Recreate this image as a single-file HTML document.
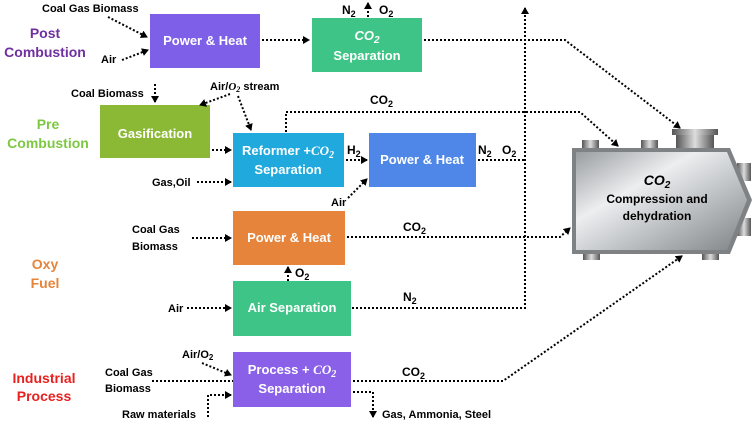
<!DOCTYPE html>
<html><head><meta charset="utf-8"><style>
body{margin:0;background:#fff;}
svg text{font-family:"Liberation Sans",sans-serif;font-weight:bold;}
</style></head><body>
<svg width="755" height="421" viewBox="0 0 755 421" xmlns="http://www.w3.org/2000/svg">
<defs>
<marker id="a" markerWidth="8" markerHeight="8" refX="6" refY="4" orient="auto" markerUnits="userSpaceOnUse"><path d="M0,0 L7,4 L0,8 z" fill="#000"/></marker>
<linearGradient id="m" x1="0" y1="0" x2="1" y2="1"><stop offset="0" stop-color="#9a9da0"/><stop offset="0.35" stop-color="#eceef0"/><stop offset="0.6" stop-color="#c2c5c8"/><stop offset="1" stop-color="#808386"/></linearGradient>
<linearGradient id="p" x1="0" y1="0" x2="1" y2="0"><stop offset="0" stop-color="#555"/><stop offset="0.5" stop-color="#ddd"/><stop offset="1" stop-color="#555"/></linearGradient>
</defs>
<rect x="582" y="140" width="17" height="8" fill="url(#p)"/>
<rect x="641" y="140" width="17" height="8" fill="url(#p)"/>
<rect x="676" y="133" width="38" height="15" fill="url(#p)"/>
<rect x="672" y="129" width="46" height="6" fill="url(#p)"/>
<rect x="737" y="163" width="14" height="18" fill="url(#p)"/>
<rect x="737" y="218" width="14" height="18" fill="url(#p)"/>
<rect x="583" y="252" width="17" height="8" fill="url(#p)"/>
<rect x="702" y="252" width="17" height="8" fill="url(#p)"/>
<path d="M572,148 L730,148 L752,200 L730,254 L572,254 z" fill="#7f8285"/>
<path d="M576,152 L727,152 L747,200 L727,250 L576,250 z" fill="url(#m)"/>
<text x="657" y="185" font-size="14" text-anchor="middle" font-style="italic" font-family="Liberation Serif">CO<tspan font-size="10" dy="3">2</tspan></text>
<text x="657" y="203" font-size="12" text-anchor="middle">Compression and</text>
<text x="657" y="220" font-size="12" text-anchor="middle">dehydration</text>
<g font-size="13" fill="#fff" text-anchor="middle">
<rect x="150" y="14" width="110" height="54" fill="#7e5fe8"/><text x="205" y="45">Power &amp; Heat</text>
<rect x="312" y="18" width="110" height="54" fill="#3ec486"/><text x="367" y="40" font-style="italic" font-family="Liberation Serif">CO<tspan font-size="10" dy="3">2</tspan></text><text x="367" y="60">Separation</text>
<rect x="100" y="105" width="110" height="53" fill="#8cb935"/><text x="155" y="138">Gasification</text>
<rect x="233" y="133" width="111" height="54" fill="#1fa9dc"/><text x="288" y="155">Reformer +<tspan font-style="italic" font-family="Liberation Serif">CO<tspan font-size="10" dy="3">2</tspan></tspan></text><text x="288" y="174">Separation</text>
<rect x="369" y="133" width="107" height="54" fill="#4f87e8"/><text x="422" y="164">Power &amp; Heat</text>
<rect x="233" y="211" width="112" height="54" fill="#e5843a"/><text x="289" y="242">Power &amp; Heat</text>
<rect x="233" y="281" width="118" height="55" fill="#3ec486"/><text x="292" y="312">Air Separation</text>
<rect x="233" y="352" width="118" height="55" fill="#8a60e8"/><text x="292" y="374">Process + <tspan font-style="italic" font-family="Liberation Serif">CO<tspan font-size="10" dy="3">2</tspan></tspan></text><text x="292" y="393">Separation</text>
</g>
<g font-size="14" text-anchor="middle">
<text x="45" y="38" fill="#7030a0">Post</text><text x="45" y="57" fill="#7030a0">Combustion</text>
<text x="48" y="129" fill="#7dc843">Pre</text><text x="48" y="148" fill="#7dc843">Combustion</text>
<text x="45" y="269" fill="#e5843a">Oxy</text><text x="45" y="288" fill="#e5843a">Fuel</text>
<text x="44" y="383" fill="#e8201f">Industrial</text><text x="44" y="401" fill="#e8201f">Process</text>
</g>
<g font-size="11" fill="#000">
<text x="42" y="12">Coal Gas Biomass</text>
<text x="101" y="63">Air</text>
<text x="71" y="97">Coal Biomass</text>
<text x="210" y="90">Air/<tspan font-style="italic" font-family="Liberation Serif">O<tspan font-size="8" dy="2">2</tspan></tspan><tspan dy="-2"> stream</tspan></text>
<text x="152" y="186">Gas,Oil</text>
<text x="132" y="233">Coal Gas</text><text x="132" y="250">Biomass</text>
<text x="168" y="312">Air</text>
<text x="182" y="358">Air/O<tspan font-size="8" dy="2">2</tspan></text>
<text x="105" y="376">Coal Gas</text><text x="105" y="392">Biomass</text>
<text x="122" y="418">Raw materials</text>
<text x="382" y="418">Gas, Ammonia, Steel</text>
<text x="331" y="206">Air</text>
</g>
<g font-size="12" fill="#000">
<text x="342" y="14" font-family="Liberation Serif">N<tspan font-size="9" dy="3">2</tspan></text>
<text x="379" y="14" font-family="Liberation Serif">O<tspan font-size="9" dy="3">2</tspan></text>
<text x="370" y="104" font-family="Liberation Serif">CO<tspan font-size="9" dy="3">2</tspan></text>
<text x="347" y="154" font-family="Liberation Serif">H<tspan font-size="9" dy="3">2</tspan></text>
<text x="478" y="154" font-family="Liberation Serif">N<tspan font-size="9" dy="3">2</tspan></text>
<text x="502" y="154" font-family="Liberation Serif">O<tspan font-size="9" dy="3">2</tspan></text>
<text x="403" y="231" font-family="Liberation Serif">CO<tspan font-size="9" dy="3">2</tspan></text>
<text x="295" y="277" font-family="Liberation Serif">O<tspan font-size="9" dy="3">2</tspan></text>
<text x="403" y="301" font-family="Liberation Serif">N<tspan font-size="9" dy="3">2</tspan></text>
<text x="402" y="376" font-family="Liberation Serif">CO<tspan font-size="9" dy="3">2</tspan></text>
</g>
<g stroke="#000" stroke-width="2" stroke-dasharray="2 2" fill="none">
<path d="M108,17 L147,37" marker-end="url(#a)"/>
<path d="M122,60 L148,50" marker-end="url(#a)"/>
<path d="M262,40 L309,40" marker-end="url(#a)"/>
<path d="M368,17 L368,3" marker-end="url(#a)"/>
<path d="M424,40 L565,40 L680,128" marker-end="url(#a)"/>
<path d="M155,84 L155,102" marker-end="url(#a)"/>
<path d="M230,94 L200,105" marker-end="url(#a)"/>
<path d="M238,96 L251,130" marker-end="url(#a)"/>
<path d="M212,150 L231,150" marker-end="url(#a)"/>
<path d="M197,182 L231,182" marker-end="url(#a)"/>
<path d="M286,132 L286,112 L580,112 L618,146" marker-end="url(#a)"/>
<path d="M346,160 L367,160" marker-end="url(#a)"/>
<path d="M348,198 L367,179" marker-end="url(#a)"/>
<path d="M478,160 L525,160"/>
<path d="M352,308 L525,308 L525,8" marker-end="url(#a)"/>
<path d="M192,238 L231,238" marker-end="url(#a)"/>
<path d="M347,237 L560,237 L570,228" marker-end="url(#a)"/>
<path d="M288,281 L288,267" marker-end="url(#a)"/>
<path d="M187,308 L231,308" marker-end="url(#a)"/>
<path d="M202,363 L231,375" marker-end="url(#a)"/>
<path d="M152,381 L233,381"/>
<path d="M208,417 L208,395 L231,395" marker-end="url(#a)"/>
<path d="M353,381 L503,381 L682,256" marker-end="url(#a)"/>
<path d="M353,392 L373,392 L373,417" marker-end="url(#a)"/>
</g>
</svg>
</body></html>
